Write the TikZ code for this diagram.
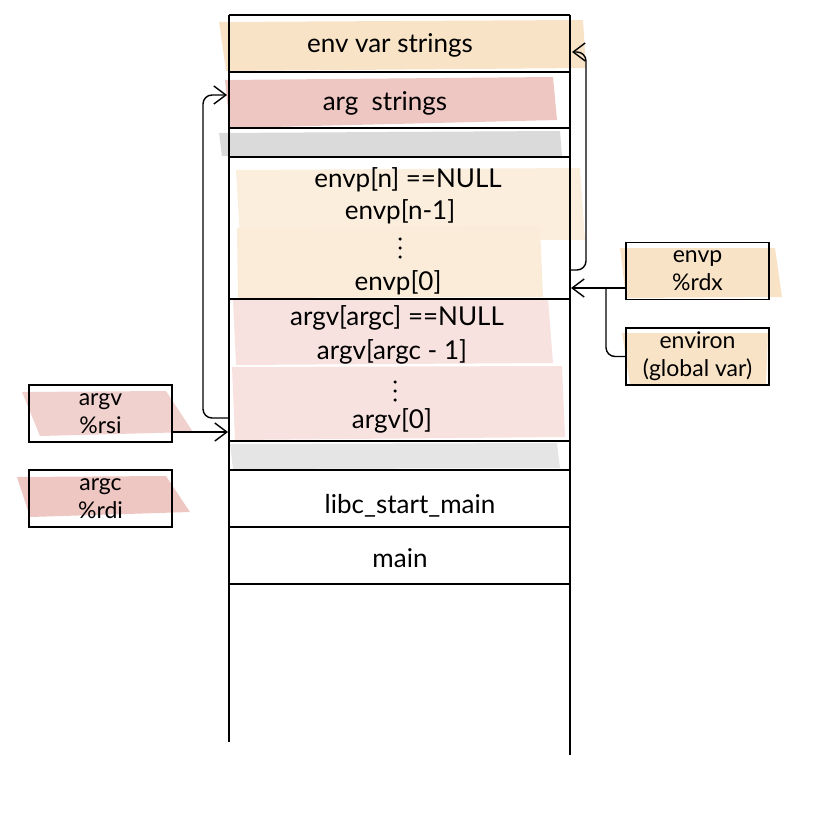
\documentclass[tikz,border=0pt]{standalone}
\usepackage{fontspec}
\setmainfont{Lato}
\usetikzlibrary{arrows.meta}
\definecolor{peach}{HTML}{F8E3C6}
\definecolor{peachlt}{HTML}{FBEEDD}
\definecolor{pinkc}{HTML}{EEC6C2}
\definecolor{pinklt}{HTML}{F7E2E0}
\definecolor{grayb}{HTML}{DADADA}
\tikzset{
  ln/.style={line width=1.3pt, black},
  arr/.style={line width=1.4pt, rounded corners=9pt, -{Straight Barb[length=12pt,width=18pt,line width=1.4pt]}},
  conn/.style={line width=1.4pt, rounded corners=9pt},
  lbl/.style={font=\fontsize{26}{28}\selectfont, inner sep=0pt},
  dotc/.style={fill=black, circle, inner sep=0pt, minimum size=3.5pt},
  reg/.style={draw, line width=1.3pt, minimum width=143pt, minimum height=57pt, inner sep=0pt, align=center, font=\fontsize{23}{28}\selectfont}
}
\begin{document}
\begin{tikzpicture}[x=1pt,y=-1pt]
\useasboundingbox (0,0) rectangle (822,826);
% highlighter fills
\fill[peach] (219,22) -- (583,20) -- (586,68) -- (226,71) -- cycle;
\fill[pinkc] (225,80) -- (553,77) -- (557,120) -- (230,128) -- cycle;
\fill[grayb] (219,133) -- (560,131) -- (562,156) -- (222,156) -- cycle;
\fill[peachlt] (236,170) -- (580,168) -- (585,240) -- (240,238) -- cycle;
\fill[peachlt!80!peach] (237,228) -- (540,226) -- (543,297) -- (238,298) -- cycle;
\fill[pinklt] (233,300) -- (548,298) -- (553,363) -- (236,365) -- cycle;
\fill[pinklt] (232,367) -- (562,366) -- (565,437) -- (235,440) -- cycle;
\fill[grayb!70] (230,444) -- (557,443) -- (560,468) -- (233,469) -- cycle;
\fill[peach] (620,248) -- (775,248) -- (782,297) -- (626,298) -- cycle;
\fill[peach] (622,333) -- (768,333) -- (766,384) -- (630,384) -- cycle;
\fill[pinkc!80] (22,392) -- (166,391) -- (193,432) -- (40,436) -- cycle;
\fill[pinkc] (17,477) -- (166,476) -- (190,512) -- (30,517) -- cycle;
% stack frame
\draw[ln] (229,15) -- (570,15);
\draw[ln] (229,15) -- (229,742);
\draw[ln] (570,15) -- (570,755);
\foreach \yy in {72,128,157,299,441,470,527,584}
  \draw[ln] (229,\yy) -- (570,\yy);
% labels in stack
\node[lbl] (envstr) at (390,45) {env var strings};
\node[lbl] (argstr) at (385,103) {arg \ strings};
\node[lbl] (envn) at (408,180) {envp[n] ==NULL};
\node[lbl] (envn1) at (400,212) {envp[n-1]};
\node[dotc] (ed1) at (400,239) {};
\node[dotc] (ed2) at (400,248) {};
\node[dotc] (ed3) at (400,257) {};
\node[lbl] (env0) at (398,283) {envp[0]};
\node[lbl] (argvc) at (397,318) {argv[argc] ==NULL};
\node[lbl] (argvc1) at (392,352) {argv[argc - 1]};
\node[dotc] (ad1) at (395,382) {};
\node[dotc] (ad2) at (395,391) {};
\node[dotc] (ad3) at (395,400) {};
\node[lbl] (argv0) at (392,421) {argv[0]};
\node[lbl] (libc) at (410,506) {libc\_start\_main};
\node[lbl] (mainf) at (400,558) {main};
% register boxes
\node[reg] (envp) at (697.5,271) {envp\\\%rdx};
\node[reg] (environ) at (697.5,356.5) {environ\\(global var)};
\node[reg] (argv) at (100.5,413.5) {argv\\\%rsi};
\node[reg] (argc) at (100.5,498.5) {argc\\\%rdi};
% connector anchors
\coordinate (a0src) at (229,418);
\coordinate (argstrin) at (227,95);
\coordinate (e0src) at (570,270);
\coordinate (envstrin) at (572,52);
\coordinate (envpin) at (571,288);
\coordinate (argvin) at (228,432);
% connectors
\draw[arr] (a0src) -- (203,418) -- (203,95) -- (argstrin);
\draw[arr] (e0src) -- (586,270) -- (586,52) -- (envstrin);
\draw[arr] (envp.west |- 0,288) -- (envpin);
\draw[conn] (environ.west) -- (606,356.5) -- (606,288);
\draw[arr] (argv.east |- 0,432) -- (argvin);
\end{tikzpicture}
\end{document}
